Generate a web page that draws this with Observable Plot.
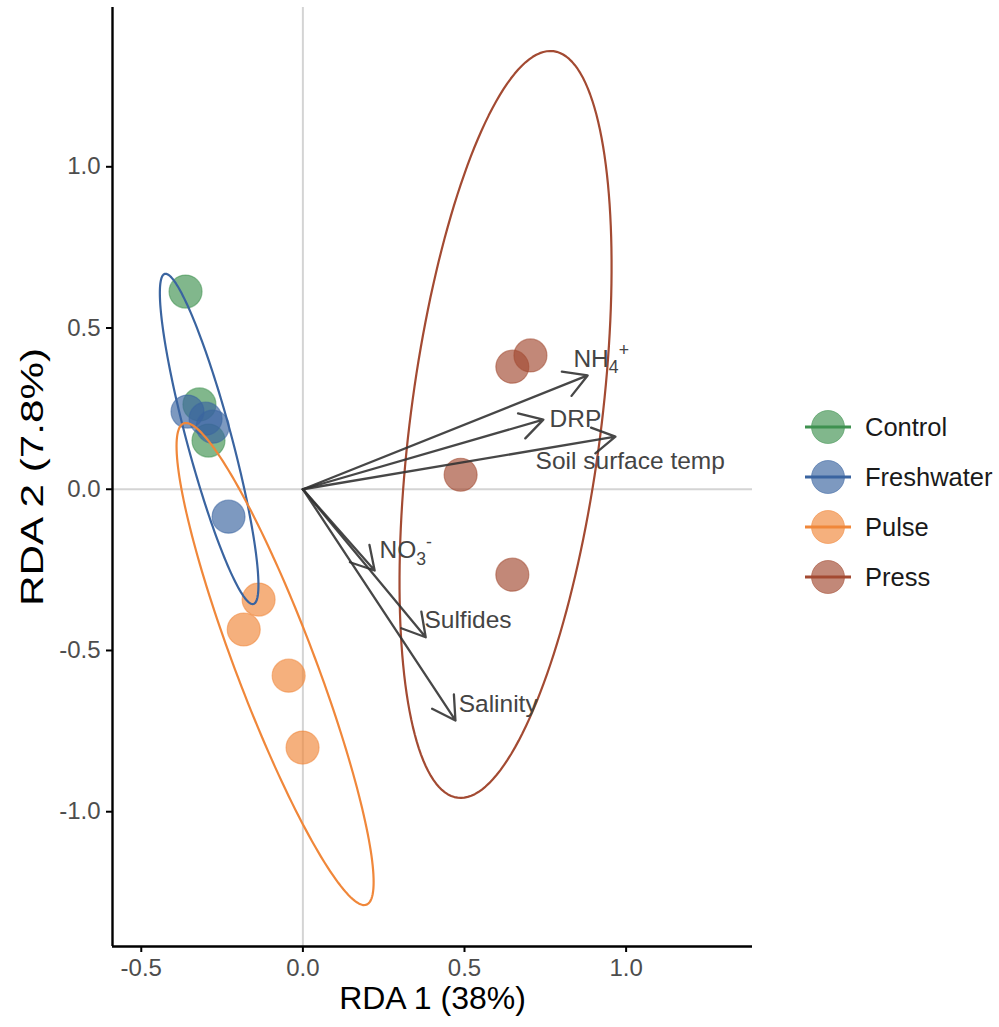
<!DOCTYPE html>
<html>
<head>
<meta charset="utf-8">
<script src="https://cdn.jsdelivr.net/npm/d3@7"></script>
<script src="https://cdn.jsdelivr.net/npm/@observablehq/plot@0.6"></script>
<style>
  html, body { margin: 0; padding: 0; background: #fff; }
  #wrap { position: relative; width: 999px; height: 1027px; font-family: "Liberation Sans", Arial, sans-serif; }
  #legend { position: absolute; left: 803px; top: 402px; }
  .item { display: flex; align-items: center; height: 50px; }
  .item span { font-size: 25.5px; color: #1a1a1a; margin-left: 12px; }
</style>
</head>
<body>
<div id="wrap"><div id="legend"></div></div>
<script>
// ---- data ----
const groups = ["Control", "Freshwater", "Pulse", "Press"];
const groupColors = ["#3f9150", "#3a64a0", "#f0873a", "#a34a32"];

// site scores
const siteGroup = ["Control","Control","Control",
                   "Freshwater","Freshwater","Freshwater","Freshwater",
                   "Pulse","Pulse","Pulse","Pulse",
                   "Press","Press","Press","Press"];
const siteRDA1 = [-0.363, -0.320, -0.292,
                  -0.357, -0.301, -0.279, -0.230,
                  -0.137, -0.183, -0.044, -0.001,
                   0.648,  0.704,  0.488,  0.648];
const siteRDA2 = [ 0.613,  0.263,  0.151,
                   0.241,  0.219,  0.194, -0.085,
                  -0.342, -0.435, -0.578, -0.801,
                   0.380,  0.415,  0.045, -0.265];

// environmental vectors
const envNames = ["NH4+", "DRP", "Soil surface temp", "NO3-", "Sulfides", "Salinity"];
const envRDA1 = [0.881, 0.744, 0.967, 0.222, 0.380, 0.472];
const envRDA2 = [0.353, 0.216, 0.163, -0.252, -0.459, -0.717];
const envLabelRDA1 = [0.837, 0.763, 0.720, 0.237, 0.376, 0.482];
const envLabelRDA2 = [0.405, 0.218, 0.086, -0.190, -0.406, -0.665];

// 95% ellipses (centre, semi-axes, orientation in degrees)
const ellGroup = ["Freshwater", "Pulse", "Press"];
const ellCx = [-0.290, -0.086, 0.627];
const ellCy = [0.156, -0.542, 0.201];
const ellA = [0.530, 0.798, 1.167];
const ellB = [0.0690, 0.122, 0.295];
const ellAngle = [105, 110.75, 82.7];

const xTicks = [-0.5, 0.0, 0.5, 1.0];
const yTicks = [-1.0, -0.5, 0.0, 0.5, 1.0];
const xDomain = [-0.589, 1.391];
const yDomain = [-1.418, 1.494];
const xTitle = "RDA 1 (38%)";
const yTitle = "RDA 2 (7.8%)";

// ---- build tables ----
const sites = siteGroup.map((g, i) => ({group: g, x: siteRDA1[i], y: siteRDA2[i]}));
const env = envNames.map((n, i) => ({name: n, x: envRDA1[i], y: envRDA2[i], lx: envLabelRDA1[i], ly: envLabelRDA2[i]}));
const ellPts = [];
ellGroup.forEach((g, k) => {
  const th = ellAngle[k] * Math.PI / 180;
  const n = 180;
  for (let j = 0; j < n; j++) {
    const t = 2 * Math.PI * j / n;
    const u = ellA[k] * Math.cos(t), v = ellB[k] * Math.sin(t);
    ellPts.push({group: g, x: ellCx[k] + u * Math.cos(th) - v * Math.sin(th), y: ellCy[k] + u * Math.sin(th) + v * Math.cos(th)});
  }
});

const fmt = d => d.toFixed(1);
const colorScale = {domain: groups, range: groupColors};

const chart = Plot.plot({
  width: 999,
  height: 1027,
  marginLeft: 112,
  marginRight: 247,
  marginTop: 7,
  marginBottom: 81,
  style: {fontFamily: '"Liberation Sans", Arial, sans-serif', background: "#fff"},
  x: {domain: xDomain},
  y: {domain: yDomain},
  color: colorScale,
  marks: [
    Plot.ruleX([0], {stroke: "#d4d4d4", strokeWidth: 2}),
    Plot.ruleY([0], {stroke: "#d4d4d4", strokeWidth: 2}),
    Plot.dot(sites, {x: "x", y: "y", r: 16.5, fill: "group", fillOpacity: 0.66, stroke: "group", strokeOpacity: 0.55, strokeWidth: 1.2}),
    Plot.line(ellPts, {x: "x", y: "y", z: "group", stroke: "group", strokeWidth: 2.2, curve: "linear-closed"}),
    Plot.arrow(env, {x1: 0, y1: 0, x2: "x", y2: "y", stroke: "#333", strokeWidth: 2.3, headLength: 17, headAngle: 60, strokeOpacity: 0.9}),
    Plot.text(env, {x: "lx", y: "ly", text: "name", textAnchor: "start", fontSize: 24.5, fill: "#444", className: "envlab"}),
    Plot.ruleX([xDomain[0]], {stroke: "black", strokeWidth: 2.4}),
    Plot.ruleY([yDomain[0]], {stroke: "black", strokeWidth: 2.4}),
    Plot.axisX({ticks: xTicks, tickFormat: fmt, tickSize: 6, tickPadding: 6, stroke: "black", strokeWidth: 2, color: "#4d4d4d", fontSize: 24, label: null}),
    Plot.axisY({ticks: yTicks, tickFormat: fmt, tickSize: 6, tickPadding: 6, stroke: "black", strokeWidth: 2, color: "#4d4d4d", fontSize: 24, label: null}),
    Plot.text([xTitle], {frameAnchor: "bottom", dy: 62, fontSize: 32, fill: "black"}),
    Plot.text([yTitle], {frameAnchor: "left", dx: -80, rotate: -90, textAnchor: "middle", fontSize: 32, fill: "black", className: "ytitle"})
  ]
});
document.getElementById("wrap").prepend(chart);

// y title is drawn elongated in the reference
d3.select(chart).selectAll(".ytitle text").attr("transform", function () {
  return (this.getAttribute("transform") || "") + " scale(1.32,1)";
});

// chemical formulas with sub/superscripts
const formula = {"NH4+": ["NH", "4", "+"], "NO3-": ["NO", "3", "-"]};
d3.select(chart).selectAll(".envlab text").each(function () {
  const t = this.textContent;
  if (!formula[t]) return;
  const [base, sub, sup] = formula[t];
  const el = d3.select(this);
  el.text(null);
  el.append("tspan").text(base);
  el.append("tspan").attr("dy", "0.35em").attr("font-size", "72%").text(sub);
  el.append("tspan").attr("dy", "-0.95em").attr("font-size", "72%").text(sup);
});

// ---- legend ----
const legend = d3.select("#legend");
groups.forEach((g, i) => {
  const item = legend.append("div").attr("class", "item");
  const svg = item.append("svg").attr("width", 50).attr("height", 40);
  svg.append("circle").attr("cx", 25).attr("cy", 20).attr("r", 16.5)
     .attr("fill", groupColors[i]).attr("fill-opacity", 0.66)
     .attr("stroke", groupColors[i]).attr("stroke-opacity", 0.55);
  svg.append("line").attr("x1", 2).attr("x2", 48).attr("y1", 20).attr("y2", 20)
     .attr("stroke", groupColors[i]).attr("stroke-width", 3);
  item.append("span").text(g);
});
</script>
</body>
</html>
